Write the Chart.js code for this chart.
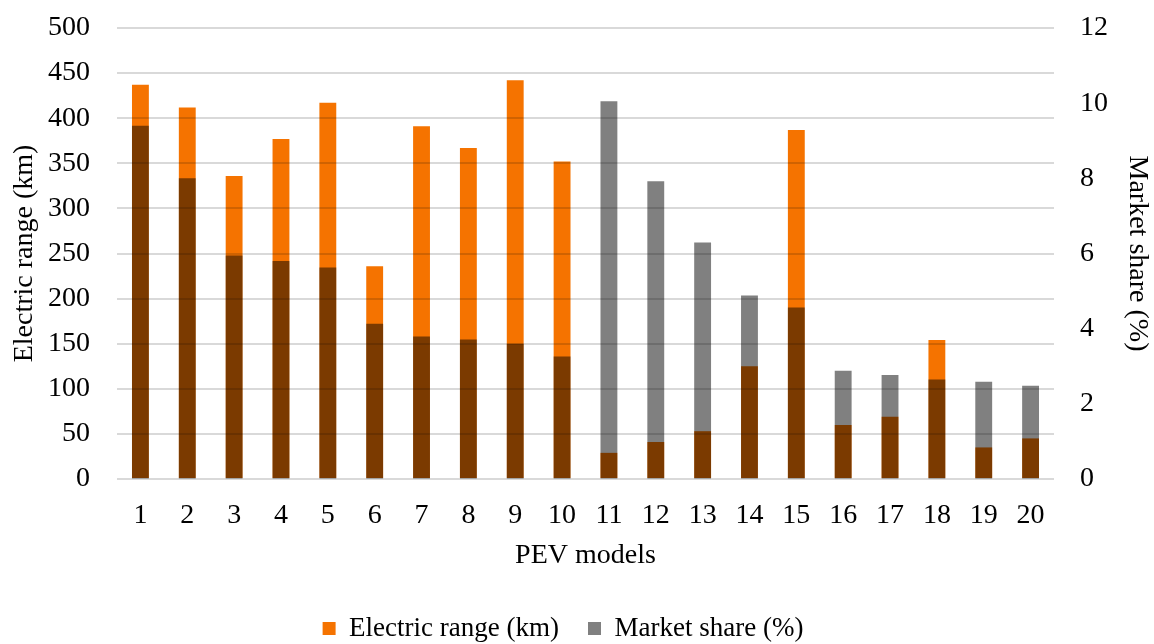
<!DOCTYPE html>
<html>
<head>
<meta charset="utf-8">
<script src="https://cdn.jsdelivr.net/npm/chart.js@4"></script>
<style>
  html, body { margin: 0; padding: 0; background: #fff; }
  #wrap { width: 1154px; height: 644px; }
</style>
</head>
<body>
<div id="wrap"><canvas id="chart"></canvas></div>
<script>
const models = ["1", "2", "3", "4", "5", "6", "7", "8", "9", "10",
  "11", "12", "13", "14", "15", "16", "17", "18", "19", "20"];
const electricRange = [437, 412, 336, 377, 417, 236, 391, 367, 442, 352,
  29, 41, 53, 125, 387, 60, 69, 154, 35, 45];
const marketShare = [9.4, 8.0, 5.95, 5.8, 5.63, 4.13, 3.79, 3.71, 3.6, 3.26,
  10.05, 7.92, 6.29, 4.88, 4.56, 2.88, 2.77, 2.65, 2.59, 2.48];

const FONT = "'Liberation Serif', 'Times New Roman', serif";

// overlapping bars look like excel's darkened overlap -> multiply blend
const multiplyBars = {
  id: "multiplyBars",
  beforeDraw(chart) {
    const { ctx, width, height } = chart;
    ctx.save();
    ctx.fillStyle = "#fff";
    ctx.fillRect(0, 0, width, height);
    ctx.restore();
  },
  beforeDatasetsDraw(chart) {
    chart.ctx.save();
    chart.ctx.globalCompositeOperation = "multiply";
  },
  afterDatasetsDraw(chart) {
    chart.ctx.restore();
  },
};

// fixed axis width, and drop the tick padding chart.js adds above/below the plot
function fixVertical(width) {
  return (scale) => {
    scale.width = width;
    scale.paddingTop = 0;
    scale.paddingBottom = 0;
  };
}

new Chart(document.getElementById("chart"), {
  type: "bar",
  data: {
    labels: models,
    datasets: [
      {
        label: "Electric range (km)",
        data: electricRange,
        backgroundColor: "#F57300",
        yAxisID: "yRange",
        grouped: false,
        barPercentage: 0.36,
        categoryPercentage: 1,
      },
      {
        label: "Market share (%)",
        data: marketShare,
        backgroundColor: "#808080",
        yAxisID: "yShare",
        grouped: false,
        barPercentage: 0.36,
        categoryPercentage: 1,
      },
    ],
  },
  options: {
    responsive: true,
    maintainAspectRatio: false,
    animation: false,
    layout: { padding: { top: 28, bottom: -8, left: 0, right: 28 } },
    plugins: {
      legend: {
        position: "bottom",
        labels: {
          font: { family: FONT, size: 27 },
          color: "#000",
          boxWidth: 13,
          boxHeight: 13,
          padding: 29,
        },
      },
      tooltip: { enabled: false },
    },
    scales: {
      x: {
        grid: { display: false },
        border: { display: false },
        ticks: { font: { family: FONT, size: 28 }, color: "#000", padding: 12 },
        title: {
          display: true,
          text: "PEV models",
          font: { family: FONT, size: 28 },
          color: "#000",
          padding: { top: 0, bottom: 14 },
        },
        afterFit: (scale) => { scale.height = 107; },
      },
      yRange: {
        type: "linear",
        position: "left",
        min: 0,
        max: 500,
        ticks: { stepSize: 50, font: { family: FONT, size: 28 }, color: "#000", padding: 27 },
        grid: { color: "#d9d9d9", lineWidth: 2, drawTicks: false },
        border: { display: false },
        title: {
          display: true,
          text: "Electric range (km)",
          font: { family: FONT, size: 28 },
          color: "#000",
          padding: { top: 8, bottom: 0 },
        },
        afterFit: fixVertical(117),
      },
      yShare: {
        type: "linear",
        position: "right",
        min: 0,
        max: 12,
        ticks: { stepSize: 2, font: { family: FONT, size: 28 }, color: "#000", padding: 26 },
        grid: { drawOnChartArea: false, drawTicks: false },
        border: { display: false },
        title: {
          display: true,
          text: "Market share (%)",
          font: { family: FONT, size: 28 },
          color: "#000",
          padding: { top: -28, bottom: 0 },
        },
        afterFit: fixVertical(72),
      },
    },
  },
  plugins: [multiplyBars],
});
</script>
</body>
</html>
